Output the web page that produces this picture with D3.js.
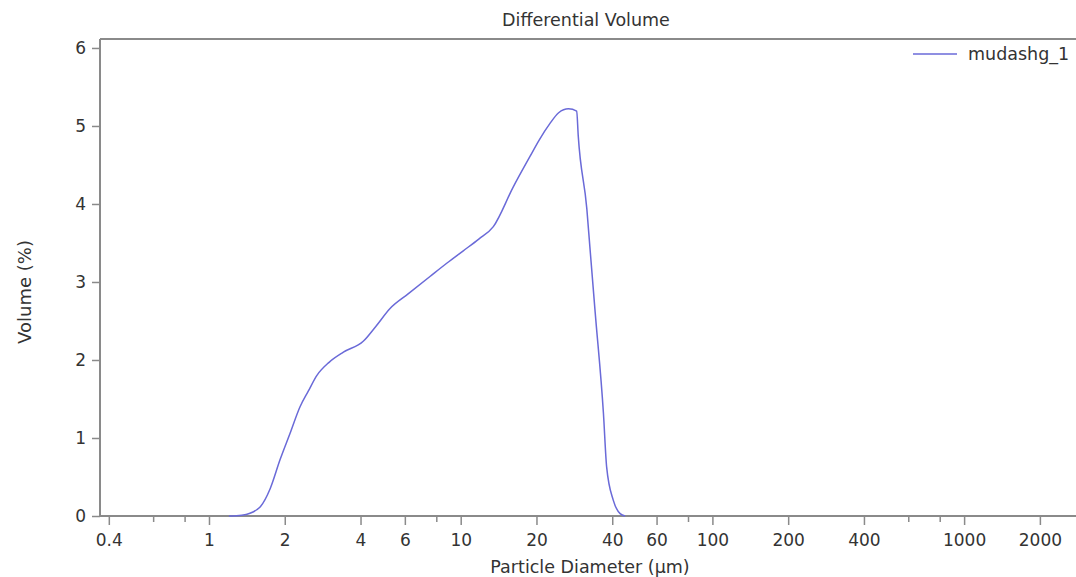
<!DOCTYPE html>
<html>
<head>
<meta charset="utf-8">
<script src="https://cdn.jsdelivr.net/npm/d3@7"></script>
<style>
  html, body { margin: 0; padding: 0; background: #fff; }
  svg { display: block; }
  text { font-family: "DejaVu Sans", sans-serif; fill: #333; }
</style>
</head>
<body>
<svg id="chart" width="1076" height="577"></svg>
<script>
const diameters = [1.2, 1.35, 1.455, 1.547, 1.6, 1.75, 1.915, 2.1, 2.3, 2.48, 2.68, 3.0, 3.42, 4.1, 4.6, 5.24, 6.2, 7.55, 8.8, 10.24, 11.8, 13.48, 16.18, 18.85, 20.5, 22.6, 24.5, 26.8, 28.9, 29.3, 31.7, 32.6, 34.2, 36.9, 38.0, 40.4, 43.0, 45.0];
const volumes   = [0, 0.01, 0.035, 0.08, 0.12, 0.35, 0.72, 1.06, 1.40, 1.60, 1.80, 1.97, 2.10, 2.24, 2.43, 2.66, 2.85, 3.07, 3.24, 3.40, 3.55, 3.71, 4.22, 4.61, 4.82, 5.03, 5.17, 5.22, 5.19, 4.88, 3.94, 3.45, 2.62, 1.32, 0.63, 0.2, 0.03, 0];
const xMajorTicks = [0.4, 1, 2, 4, 6, 10, 20, 40, 60, 100, 200, 400, 1000, 2000];
const xMinorTicks = [0.6, 0.8, 8, 80, 600, 800];
const yTicks = [0, 1, 2, 3, 4, 5, 6];
const seriesName = "mudashg_1";
const titleText = "Differential Volume";
const xLabel = "Particle Diameter (µm)";
const yLabel = "Volume (%)";

const svg = d3.select("#chart");
const m = { left: 100, right: 1076, top: 39, bottom: 516 };
const x = d3.scaleLog().domain([0.369, 2783]).range([m.left, m.right]);
const y = d3.scaleLinear().domain([0, 6.115]).range([m.bottom, m.top]);
const axisColor = "#8a8a8a";

// frame lines
svg.append("line").attr("x1", m.left).attr("x2", m.right).attr("y1", m.top).attr("y2", m.top)
  .attr("stroke", axisColor).attr("stroke-width", 2);

// x axis
const gx = svg.append("g").attr("transform", `translate(0,${m.bottom})`);
gx.call(d3.axisBottom(x).tickValues(xMajorTicks).tickSize(9).tickPadding(9).tickFormat(d => String(d)));
const gxm = svg.append("g").attr("transform", `translate(0,${m.bottom})`);
gxm.call(d3.axisBottom(x).tickValues(xMinorTicks).tickSize(6).tickFormat(""));
gxm.select(".domain").remove();
gx.select(".domain").attr("d", `M${m.left},0H${m.right}`);

// y axis
const gy = svg.append("g").attr("transform", `translate(${m.left},0)`);
gy.call(d3.axisLeft(y).tickValues(yTicks).tickSize(8).tickPadding(6).tickFormat(d3.format("d")));
gy.select(".domain").attr("d", `M0,${m.top}V${m.bottom}`);

svg.selectAll(".domain").attr("stroke", axisColor).attr("stroke-width", 2);
svg.selectAll(".tick line").attr("stroke", axisColor).attr("stroke-width", 1.5);
svg.selectAll(".tick text").style("font-family", '"DejaVu Sans", sans-serif').style("font-size", "17px").attr("fill", "#333");

// line
const data = diameters.map((d, i) => ({ d, v: volumes[i] }));
svg.append("path").datum(data)
  .attr("fill", "none").attr("stroke", "#6a6ad8").attr("stroke-width", 1.5)
  .attr("d", d3.line().x(p => x(p.d)).y(p => y(p.v)).curve(d3.curveMonotoneX));

// title and labels
svg.append("text").attr("x", (m.left + m.right) / 2 - 2).attr("y", 26).attr("text-anchor", "middle")
  .style("font-size", "17.5px").text(titleText);
svg.append("text").attr("x", 590).attr("y", 573).attr("text-anchor", "middle")
  .style("font-size", "17.5px").text(xLabel);
svg.append("text").attr("transform", "translate(31,292) rotate(-90)").attr("text-anchor", "middle")
  .style("font-size", "18px").text(yLabel);

// legend
svg.append("line").attr("x1", 913).attr("x2", 957).attr("y1", 54).attr("y2", 54)
  .attr("stroke", "#6a6ad8").attr("stroke-width", 1.5);
svg.append("text").attr("x", 968).attr("y", 60).style("font-size", "17.5px").text(seriesName);
</script>
</body>
</html>
